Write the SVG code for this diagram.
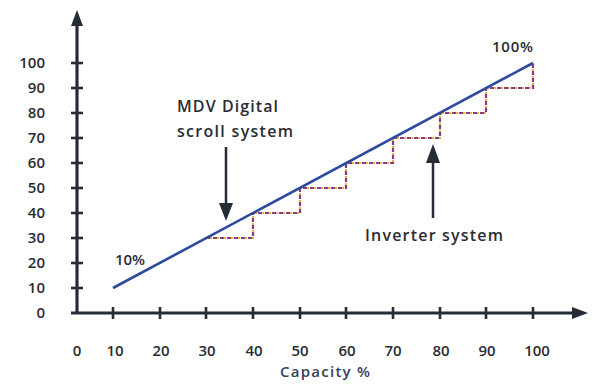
<svg xmlns="http://www.w3.org/2000/svg" width="593" height="387" viewBox="0 0 593 387">
<defs>
<style>
.t{font-family:"Open Sans","DejaVu Sans",sans-serif;font-size:15px;font-weight:600;fill:#2a2c33}
.big{font-size:16px}
.cap{fill:#34405e}
.ax{stroke:#262b38;stroke-width:3.2;fill:none}
.tk{stroke:#262b38;stroke-width:2.6}
.ah{fill:#262b38}
.step{stroke:#8a3a7e;stroke-width:2.2;stroke-dasharray:4 3;fill:none}
.step2{stroke:#e0b840;stroke-width:2.2;stroke-dasharray:3 4;stroke-dashoffset:4;fill:none}
.ln{stroke:#2c4a9e;stroke-width:2.6;fill:none}
.arr{stroke:#262b38;stroke-width:2.5}
</style>
</defs>
<rect width="593" height="387" fill="#ffffff"/>
<g id="axes">
<line class="ax" x1="77" y1="20" x2="77" y2="314"/>
<polygon class="ah" points="77,10 71,26 83,26"/>
<line class="ax" x1="71" y1="313" x2="576" y2="313"/>
<polygon class="ah" points="588,313 572,307 572,319"/>
<g class="tk">
<line x1="71" y1="63" x2="83" y2="63"/><line x1="71" y1="88" x2="83" y2="88"/><line x1="71" y1="113" x2="83" y2="113"/><line x1="71" y1="138" x2="83" y2="138"/><line x1="71" y1="163" x2="83" y2="163"/><line x1="71" y1="188" x2="83" y2="188"/><line x1="71" y1="213" x2="83" y2="213"/><line x1="71" y1="238" x2="83" y2="238"/><line x1="71" y1="263" x2="83" y2="263"/><line x1="71" y1="288" x2="83" y2="288"/>
<line x1="113" y1="307" x2="113" y2="319"/><line x1="160" y1="307" x2="160" y2="319"/><line x1="206" y1="307" x2="206" y2="319"/><line x1="253" y1="307" x2="253" y2="319"/><line x1="300" y1="307" x2="300" y2="319"/><line x1="346" y1="307" x2="346" y2="319"/><line x1="393" y1="307" x2="393" y2="319"/><line x1="440" y1="307" x2="440" y2="319"/><line x1="486" y1="307" x2="486" y2="319"/><line x1="533" y1="307" x2="533" y2="319"/>
</g>
</g>
<g id="y-labels" class="t" text-anchor="end">
<text x="45" y="68">100</text><text x="45" y="93">90</text><text x="45" y="118">80</text><text x="45" y="143">70</text><text x="45" y="168">60</text><text x="45" y="193">50</text><text x="45" y="218">40</text><text x="45" y="243">30</text><text x="45" y="268">20</text><text x="45" y="293">10</text><text x="45" y="318">0</text>
</g>
<g id="x-labels" class="t" text-anchor="middle">
<text x="77" y="356">0</text><text x="115" y="356">10</text><text x="161" y="356">20</text><text x="207" y="356">30</text><text x="254" y="356">40</text><text x="300" y="356">50</text><text x="347" y="356">60</text><text x="393" y="356">70</text><text x="441" y="356">80</text><text x="487" y="356">90</text><text x="537" y="356">100</text>
</g>
<g id="axis-title" class="t cap">
<text x="280" y="377" textLength="90">Capacity %</text>
</g>
<g id="steps">
<path class="step2" d="M206,238 H253 V213 H300 V188 H346 V163 H393 V138 H440 V113 H486 V88 H533 V63"/>
<path class="step" d="M206,238 H253 V213 H300 V188 H346 V163 H393 V138 H440 V113 H486 V88 H533 V63"/>
</g>
<g id="digital-line">
<line class="ln" x1="113" y1="288" x2="533" y2="63"/>
</g>
<g id="connectors">
<line class="arr" x1="226" y1="147" x2="226" y2="206"/>
<polygon class="ah" points="226,221 219,203 233,203"/>
<line class="arr" x1="433" y1="160" x2="433" y2="218"/>
<polygon class="ah" points="433,144 426,163 440,163"/>
</g>
<g id="mdv-label" class="t big">
<text x="177" y="112" textLength="101">MDV Digital</text>
<text x="177" y="137" textLength="116">scroll system</text>
</g>
<g id="inverter-label" class="t big">
<text x="365" y="241" textLength="138">Inverter system</text>
</g>
<g id="pct-labels" class="t">
<text x="115" y="265" textLength="30">10%</text>
<text x="492" y="52" textLength="41">100%</text>
</g>
</svg>
